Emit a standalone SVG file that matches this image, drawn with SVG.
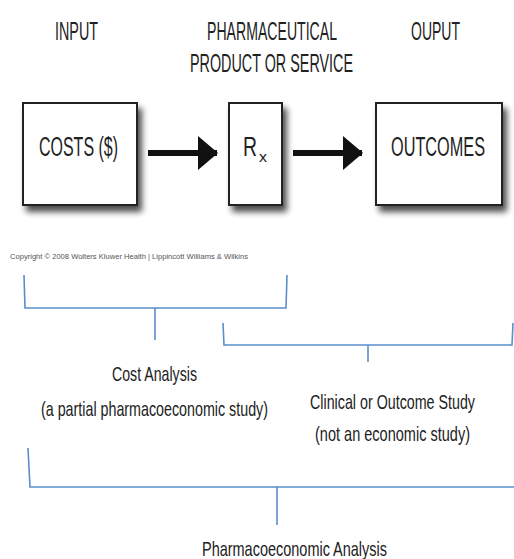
<svg xmlns="http://www.w3.org/2000/svg" width="514" height="559" viewBox="0 0 514 559">
<defs>
<style>
.t{font-family:"Liberation Sans",Arial,sans-serif;fill:#222;}
.hd{font-size:25px;}
.bx{font-size:27px;}
.lb{font-size:21px;}
.box{fill:#fff;stroke:#222;stroke-width:2;}
.br{fill:none;stroke:#5b8dcc;stroke-width:1.6;}
.ar{stroke:#111;stroke-width:6;}
</style>
<filter id="sh" x="-20%" y="-20%" width="150%" height="150%">
<feGaussianBlur in="SourceAlpha" stdDeviation="3"/>
<feOffset dx="4" dy="6" result="b"/>
<feComponentTransfer><feFuncA type="linear" slope="0.7"/></feComponentTransfer>
<feMerge><feMergeNode/><feMergeNode in="SourceGraphic"/></feMerge>
</filter>
<marker id="ah" viewBox="0 0 20 34" refX="19" refY="17" markerUnits="userSpaceOnUse" markerWidth="20" markerHeight="34" orient="auto">
<path d="M0,0 L20,17 L0,34 Z" fill="#111"/>
</marker>
</defs>
<rect width="514" height="559" fill="#fff"/>

<g id="headers">
<text class="t hd" x="55" y="40" textLength="43" lengthAdjust="spacingAndGlyphs">INPUT</text>
<text class="t hd" x="207" y="40" textLength="130" lengthAdjust="spacingAndGlyphs">PHARMACEUTICAL</text>
<text class="t hd" x="190" y="72" textLength="163" lengthAdjust="spacingAndGlyphs">PRODUCT OR SERVICE</text>
<text class="t hd" x="411" y="40" textLength="49" lengthAdjust="spacingAndGlyphs">OUPUT</text>
</g>

<g id="costs">
<rect class="box" x="23" y="103" width="114" height="102" filter="url(#sh)"/>
<text class="t bx" x="39" y="156" textLength="79" lengthAdjust="spacingAndGlyphs">COSTS ($)</text>
</g>
<g id="rx">
<rect class="box" x="229" y="103" width="53" height="102" filter="url(#sh)"/>
<text class="t bx" x="243" y="156" textLength="14" lengthAdjust="spacingAndGlyphs">R</text>
<text class="t" x="259" y="162" font-size="15" textLength="8" lengthAdjust="spacingAndGlyphs">x</text>
</g>
<g id="outcomes">
<rect class="box" x="376" y="103" width="126" height="102" filter="url(#sh)"/>
<text class="t bx" x="391" y="156" textLength="94" lengthAdjust="spacingAndGlyphs">OUTCOMES</text>
</g>

<g id="connectors">
<line class="ar" x1="148" y1="153" x2="217" y2="153" marker-end="url(#ah)"/>
<line class="ar" x1="293" y1="153" x2="362" y2="153" marker-end="url(#ah)"/>
</g>

<text x="10" y="259" font-family="Liberation Sans, Arial, sans-serif" font-size="7" fill="#555" textLength="238" lengthAdjust="spacingAndGlyphs">Copyright © 2008 Wolters Kluwer Health | Lippincott Williams &amp; Wilkins</text>

<g id="brackets">
<path class="br" d="M24,275 L25,308 L286,308 L287,275 M155,308 L155,340"/>
<path class="br" d="M223,323 L224,345 L512,345 L513,323 M368,345 L368,362"/>
<path class="br" d="M28,448 L30,487 L514,487 M277,487 L277,525"/>
</g>

<g id="labels">
<text class="t lb" x="112" y="381" textLength="85" lengthAdjust="spacingAndGlyphs">Cost Analysis</text>
<text class="t lb" x="41" y="416" textLength="227" lengthAdjust="spacingAndGlyphs">(a partial pharmacoeconomic study)</text>
<text class="t lb" x="310" y="409" textLength="165" lengthAdjust="spacingAndGlyphs">Clinical or Outcome Study</text>
<text class="t lb" x="315" y="441" textLength="155" lengthAdjust="spacingAndGlyphs">(not an economic study)</text>
<text class="t lb" x="202" y="556" textLength="185" lengthAdjust="spacingAndGlyphs">Pharmacoeconomic Analysis</text>
</g>
</svg>
